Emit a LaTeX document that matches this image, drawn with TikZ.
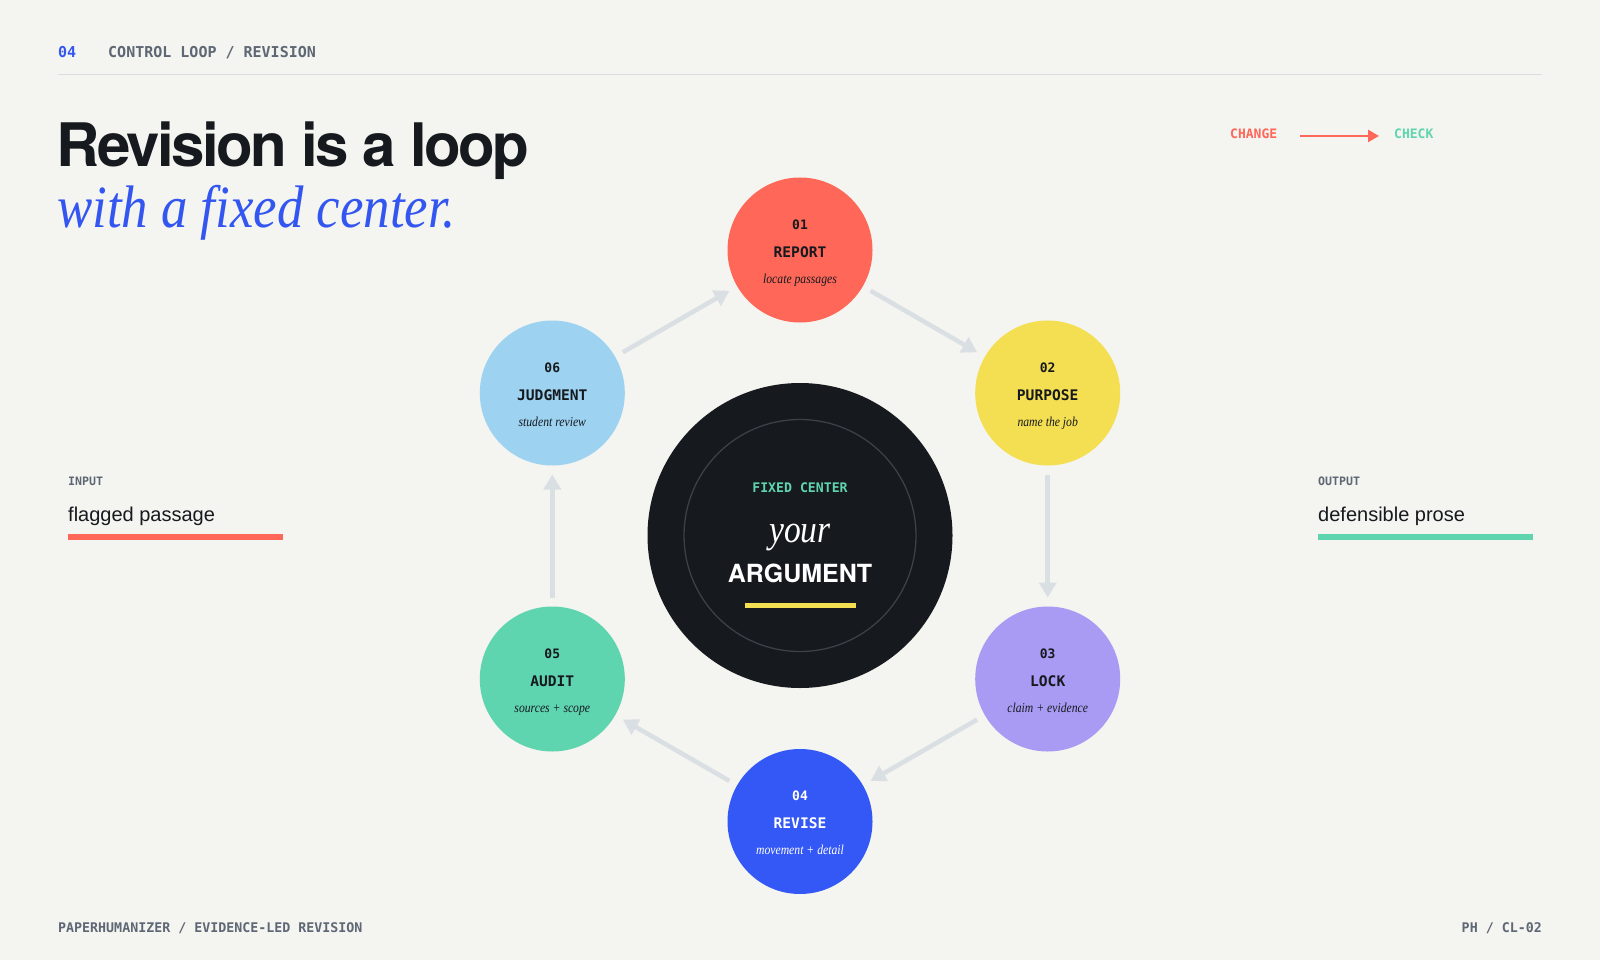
\documentclass[tikz,border=0pt]{standalone}
\usepackage{fontspec}
\usetikzlibrary{arrows.meta}
\setmainfont{Liberation Sans}
\newfontfamily\monof{DejaVu Sans Mono}
\newfontfamily\headf{TeX Gyre Heros}
\newfontfamily\serifit[FakeStretch=0.86]{Liberation Serif}
\newfontfamily\serifwide[FakeStretch=0.88]{Liberation Serif}
\definecolor{bg}{HTML}{F4F4F0}
\definecolor{ink}{HTML}{16191E}
\definecolor{greytext}{HTML}{5E6774}
\definecolor{rulec}{HTML}{DCDDE0}
\definecolor{arrowc}{HTML}{DADFE3}
\definecolor{cred}{HTML}{FF6859}
\definecolor{cyellow}{HTML}{F4DE52}
\definecolor{cpurple}{HTML}{A99BF3}
\definecolor{cblue}{HTML}{3358F5}
\definecolor{cgreen}{HTML}{5FD5AF}
\definecolor{clblue}{HTML}{9DD3F1}
\definecolor{ringc}{HTML}{3A4149}
\definecolor{titleblue}{HTML}{3356F0}
\tikzset{
  stage/.style={circle, minimum size=145pt, inner sep=0pt, outer sep=0pt, fill=#1},
  num/.style={font=\monof\bfseries\fontsize{13}{13}\selectfont, anchor=base, inner sep=0pt},
  lab/.style={font=\monof\bfseries\fontsize{14.6}{14.6}\selectfont, anchor=base, inner sep=0pt},
  sub/.style={font=\serifit\itshape\fontsize{13.6}{13.6}\selectfont, anchor=base, inner sep=0pt},
  flow/.style={draw=arrowc, line width=4.5pt, -{Triangle[length=15pt,width=17pt]}, shorten <=9pt, shorten >=9pt},
  monolab/.style={font=\monof\bfseries\fontsize{#1}{#1}\selectfont, inner sep=0pt},
  smalllab/.style={font=\monof\bfseries\fontsize{11.6}{11.6}\selectfont, text=greytext, inner sep=0pt, anchor=base west},
  valtext/.style={font=\fontsize{20}{20}\selectfont, text=ink, inner sep=0pt, anchor=base west},
}
\newcommand\mkstage[8]{%
  \node[stage=#4] (#1) at (#2,#3) {};
  \node[num,text=#5] (#1num) at ([yshift=20.7pt]#1.center) {#6};
  \node[lab,text=#5] (#1lab) at ([yshift=-7.3pt]#1.center) {#7};
  \node[sub,text=#5] (#1sub) at ([yshift=-33.2pt]#1.center) {#8};
}
\begin{document}
\begin{tikzpicture}[x=1pt,y=-1pt]
\useasboundingbox (0,0) rectangle (1600,960);
\fill[bg] (0,0) rectangle (1600,960);

% header
\node[monolab=15, text=titleblue, anchor=base west] (hnum) at (58,57.5) {04};
\node[monolab=15, text=greytext, anchor=base west] (htitle) at (108,57.5) {CONTROL LOOP / REVISION};
\draw[rulec, line width=1pt] (58,75) -- (1542,75);

% title
\node[anchor=base west, inner sep=0pt, text=ink,
  font=\headf\bfseries\fontsize{60}{60}\selectfont\addfontfeature{LetterSpace=-4.3}] (title) at (56,166.3) {Revision is a loop};
\node[anchor=base west, inner sep=0pt, text=titleblue,
  font=\serifwide\itshape\fontsize{60}{60}\selectfont] (subtitle) at (57,227) {with a fixed center.};

% change -> check
\node[monolab=13, text=cred, anchor=base west] (chg) at (1230,138.7) {CHANGE};
\node[monolab=13, text=cgreen, anchor=base west] (chk) at (1394,138.7) {CHECK};
\draw[cred, line width=2.5pt, -{Triangle[length=11pt,width=12pt]}, shorten <=23pt, shorten >=15pt] ([yshift=-2pt]chg.east) -- ([yshift=-2pt]chk.west);

% input / output
\node[smalllab] (inl) at (68,485.3) {INPUT};
\node[valtext] (inv) at (68,521.7) {flagged passage};
\draw[cred, line width=5.5pt] (68,537) -- (283,537);
\node[smalllab] (outl) at (1318,485.3) {OUTPUT};
\node[valtext] (outv) at (1318,521.7) {defensible prose};
\draw[cgreen, line width=5.5pt] (1318,537) -- (1533,537);

% center
\node[circle, fill=ink, minimum size=305pt, inner sep=0pt, outer sep=0pt] (core) at (800,535.5) {};
\node[circle, draw=ringc, line width=1.3pt, minimum size=232pt, inner sep=0pt] (ring) at (core.center) {};
\node[monolab=13.2, text=cgreen, anchor=base] (fc) at (800,492.3) {FIXED CENTER};
\node[anchor=base, inner sep=0pt, text=white, font=\serifit\itshape\fontsize{39}{39}\selectfont] (your) at (800,542.5) {your};
\node[anchor=base, inner sep=0pt, text=white, font=\headf\bfseries\fontsize{25}{25}\selectfont] (arg) at (800,582.7) {ARGUMENT};
\draw[cyellow, line width=5pt] (745,605.3) -- (856,605.3);

% stages
\mkstage{n1}{800}{250}{cred}{ink}{01}{REPORT}{locate passages}
\mkstage{n2}{1047.7}{393}{cyellow}{ink}{02}{PURPOSE}{name the job}
\mkstage{n3}{1047.7}{679}{cpurple}{ink}{03}{LOCK}{claim + evidence}
\mkstage{n4}{800}{821.5}{cblue}{white}{04}{REVISE}{movement + detail}
\mkstage{n5}{552.3}{679}{cgreen}{ink}{05}{AUDIT}{sources + scope}
\mkstage{n6}{552.3}{393}{clblue}{ink}{06}{JUDGMENT}{student review}

\draw[flow] (n1) -- (n2);
\draw[flow] (n2) -- (n3);
\draw[flow] (n3) -- (n4);
\draw[flow] (n4) -- (n5);
\draw[flow] (n5) -- (n6);
\draw[flow] (n6) -- (n1);

% footer
\node[monolab=13.3, text=greytext, anchor=base west] (fl) at (58,932.8) {PAPERHUMANIZER / EVIDENCE-LED REVISION};
\node[monolab=13.3, text=greytext, anchor=base east] (fr) at (1542,932.8) {PH / CL-02};
\end{tikzpicture}
\end{document}
